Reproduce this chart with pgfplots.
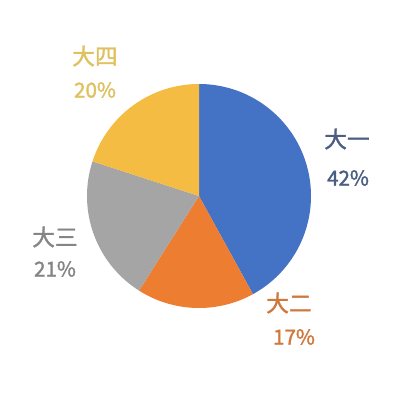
\documentclass[border=0pt]{standalone}
\usepackage{pgfplots}
\pgfplotsset{compat=1.18}
\usepackage{fontspec}
\setmainfont{Noto Sans CJK SC}
\newfontfamily\cjk{Noto Sans CJK SC}[FakeBold=1.5]

\definecolor{cOne}{HTML}{4472C4}
\definecolor{cTwo}{HTML}{ED7D31}
\definecolor{cThree}{HTML}{A5A5A5}
\definecolor{cFour}{HTML}{F4BC42}
\definecolor{tOne}{HTML}{4A5D85}
\definecolor{tTwo}{HTML}{D0783C}
\definecolor{tThree}{HTML}{858585}
\definecolor{tFour}{HTML}{DFC15E}

% shares in percent, clockwise from 12 o'clock
\def\pA{42}\def\pB{17}\def\pC{21}\def\pD{20}
\pgfmathsetmacro\aA{90}
\pgfmathsetmacro\aB{\aA-3.6*\pA}
\pgfmathsetmacro\aC{\aB-3.6*\pB}
\pgfmathsetmacro\aD{\aC-3.6*\pC}
\pgfmathsetmacro\aE{\aD-3.6*\pD}

\tikzset{
  lbl/.style={font=\cjk\fontsize{16}{18}\selectfont},
  pct/.style={font=\cjk\fontsize{14.5}{16}\selectfont},
}

\begin{document}
\begin{tikzpicture}
\begin{axis}[
    scale only axis,
    width=10cm, height=10cm,
    xmin=0, xmax=404, ymin=0, ymax=404,
    hide axis,
    clip=false,
]
\path[fill=white] (rel axis cs:0,0) rectangle (rel axis cs:1,1);
\addplot[fill=cOne, draw=none, domain=\aB:\aA, samples=80, variable=\t]
    ({199+112*cos(\t)},{208+112*sin(\t)}) -- (199,208) -- cycle;
\addplot[fill=cTwo, draw=none, domain=\aC:\aB, samples=50, variable=\t]
    ({199+112*cos(\t)},{208+112*sin(\t)}) -- (199,208) -- cycle;
\addplot[fill=cThree, draw=none, domain=\aD:\aC, samples=50, variable=\t]
    ({199+112*cos(\t)},{208+112*sin(\t)}) -- (199,208) -- cycle;
\addplot[fill=cFour, draw=none, domain=\aE:\aD, samples=50, variable=\t]
    ({199+112*cos(\t)},{208+112*sin(\t)}) -- (199,208) -- cycle;

\node[lbl, text=tOne] at (347,265) {大一};
\node[pct, text=tOne] at (348,226) {\pA\%};
\node[lbl, text=tTwo] at (289,101) {大二};
\node[pct, text=tTwo] at (294,67) {\pB\%};
\node[lbl, text=tThree] at (55,167) {大三};
\node[pct, text=tThree] at (55,135) {\pC\%};
\node[lbl, text=tFour] at (95,348) {大四};
\node[pct, text=tFour] at (95,314) {\pD\%};
\end{axis}
\end{tikzpicture}
\end{document}
